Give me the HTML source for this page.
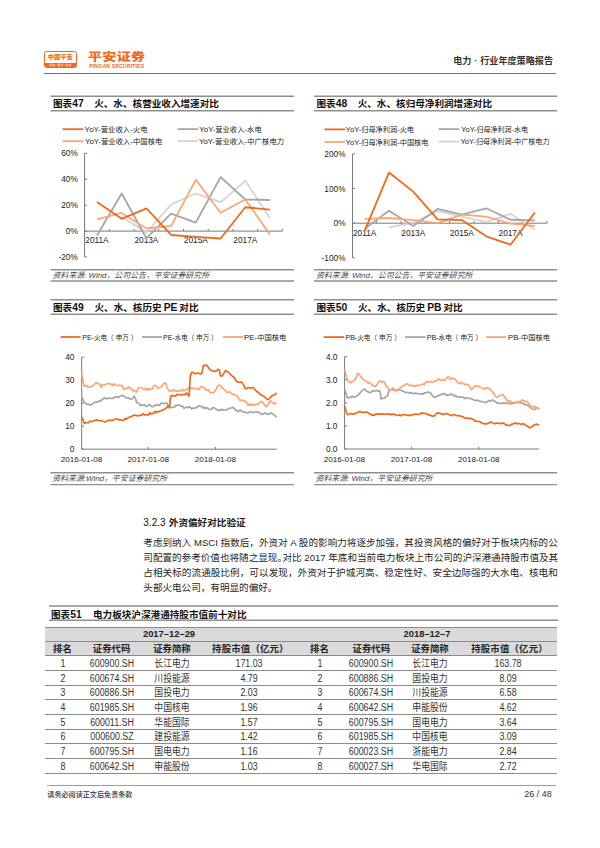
<!DOCTYPE html>
<html><head><meta charset="utf-8"><title>电力·行业年度策略报告</title>
<style>
*{margin:0;padding:0;box-sizing:border-box}
html,body{width:600px;height:848px;background:#fff;overflow:hidden}
body{position:relative;font-family:"Liberation Sans", "Noto Sans CJK SC", sans-serif;color:#333}
.a{position:absolute;white-space:nowrap}
svg{position:absolute;left:0;top:0}
svg text{font-family:"Liberation Sans", "Noto Sans CJK SC", sans-serif}
.logo{position:absolute;left:44.2px;top:50.6px;width:32.6px;height:17.4px;border:1px solid #ee6a1e;border-radius:2.5px;overflow:hidden;background:#fff}
.logo .t{position:absolute;left:0;right:0;top:2.8px;text-align:center;font-size:5.5px;line-height:7px;font-weight:900;color:#ee6a1e;transform:scaleX(1.14)}
.logo .band{position:absolute;left:0;right:0;bottom:0;height:4.4px;background:#ee6a1e;color:#fff;font-size:2.8px;line-height:4.4px;text-align:center;letter-spacing:0.5px}
.brand{left:88.3px;top:47.6px;font-size:11.1px;font-weight:900;color:#ee6a1e;letter-spacing:0.2px;transform:scaleX(1.27);transform-origin:0 0;font-family:"Noto Sans CJK SC",sans-serif}
.brand2{left:89.2px;top:62.6px;font-size:5.2px;color:#ee6a1e;letter-spacing:0.14px;font-weight:bold}
.hdr{right:47px;top:52.8px;font-size:9.1px;font-weight:bold;color:#333}
.hl{position:absolute;left:44px;width:511.5px;top:73px;height:1px;background:#707070}
.title{font-size:9.6px;font-weight:bold;color:#111}
.title .n{font-size:10.3px}
.src{font-size:7.9px;font-style:italic;color:#444}
.h3{left:143.3px;top:514.5px;font-size:9.6px;font-weight:bold;color:#222}
.p{position:absolute;left:143.3px;width:414.5px;font-size:9.58px;line-height:15px;white-space:nowrap;color:#262626}
.p.j{text-align:justify;text-align-last:justify}
.c{position:absolute;width:120px;height:14px;line-height:14px;text-align:center;font-size:10px;color:#333;white-space:nowrap;transform:scaleX(0.885)}
.c.b{font-weight:bold;color:#222;font-size:9.4px;transform:none}
.c.w{letter-spacing:0.2px}
.tb{position:absolute;left:45.3px;width:512.2px;background:#dadada}
.tl{position:absolute;left:45.3px;width:512.2px;height:1.3px;background:#8a8a8a}
.fl{position:absolute;left:47px;width:508.8px;top:784.5px;height:1px;background:#9a9a9a}
.foot{left:47.3px;top:788.5px;font-size:7.1px;color:#333;font-weight:500}
.pg{right:48.3px;top:789.3px;font-size:9px;color:#333}
</style></head><body>
<div class="logo"><div class="t">中国平安</div><div class="band">保险·银行·投资</div></div>
<div class="a brand">平安证券</div>
<div class="a brand2">PINGAN SECURITIES</div>
<div class="a hdr">电力<span style="margin:0 2.9px">·</span>行业年度策略报告</div>
<div class="hl"></div>

<div class="a title" style="left:53px;top:96px">图表<span class="n">47</span></div><div class="a title" style="left:94.2px;top:96px">火、水、核营业收入增速对比</div>
<div class="a title" style="left:316.5px;top:96px">图表<span class="n">48</span></div><div class="a title" style="left:357.7px;top:96px">火、水、核归母净利润增速对比</div>
<div class="a src" style="left:52.6px;top:268.7px">资料来源: Wind，公司公告，平安证券研究所</div>
<div class="a src" style="left:316px;top:268.7px">资料来源: Wind，公司公告，平安证券研究所</div>

<div class="a title" style="left:53px;top:299.5px">图表<span class="n">49</span></div><div class="a title" style="left:94.5px;top:299.5px;word-spacing:-0.7px">火、水、核历史 <span class="n">PE</span> 对比</div>
<div class="a title" style="left:316.5px;top:299.5px">图表<span class="n">50</span></div><div class="a title" style="left:358px;top:299.5px;word-spacing:-0.7px">火、水、核历史 <span class="n">PB</span> 对比</div>
<div class="a src" style="left:52.3px;top:471.6px">资料来源:Wind，平安证券研究所</div>
<div class="a src" style="left:315.5px;top:471.6px">资料来源: Wind，平安证券研究所</div>

<div class="a h3"><span style="font-weight:normal;font-size:10px;color:#111">3.2.3</span><span style="margin-left:3.3px">外资偏好对比验证</span></div>
<div class="p j" style="top:534.6px">考虑到纳入 MSCI 指数后，外资对 A 股的影响力将逐步加强，其投资风格的偏好对于板块内标的公</div>
<div class="p j" style="top:549.8px">司配置的参考价值也将随之显现<span style="letter-spacing:-4.5px">。</span>对比 2017 年底和当前电力板块上市公司的沪深港通持股市值及其</div>
<div class="p j" style="top:565px">占相关标的流通股比例，可以发现，外资对于护城河高、稳定性好、安全边际强的大水电、核电和</div>
<div class="p" style="top:580.2px">头部火电公司，有明显的偏好。</div>

<div class="a title" style="left:51px;top:606.5px">图表<span class="n">51</span></div><div class="a title" style="left:93px;top:606.5px">电力板块沪深港通持股市值前十对比</div>
<div class="tb" style="top:627.5px;height:14.2px"></div>
<div class="tb" style="top:642.2px;height:13.6px"></div>
<div class="tl" style="top:627px"></div>
<div class="tl" style="top:641px"></div>
<div class="tl" style="top:655px"></div>
<div class="tl" style="top:670px"></div>
<div class="tl" style="top:685px"></div>
<div class="tl" style="top:699px"></div>
<div class="tl" style="top:714px"></div>
<div class="tl" style="top:729px"></div>
<div class="tl" style="top:743px"></div>
<div class="tl" style="top:758px"></div>
<div class="tl" style="top:773px"></div>
<div class="c b" style="left:109.0px;top:627.4px">2017–12–29</div>
<div class="c b" style="left:367.0px;top:627.4px">2018–12–7</div>
<div class="c b" style="left:2.5px;top:641.8px">排名</div>
<div class="c b" style="left:51.6px;top:641.8px">证券代码</div>
<div class="c b" style="left:112.0px;top:641.8px">证券简称</div>
<div class="c b w" style="left:190.4px;top:641.8px">持股市值（亿元）</div>
<div class="c b" style="left:259.5px;top:641.8px">排名</div>
<div class="c b" style="left:311.3px;top:641.8px">证券代码</div>
<div class="c b" style="left:370.0px;top:641.8px">证券简称</div>
<div class="c b w" style="left:449.5px;top:641.8px">持股市值（亿元）</div>
<div class="c " style="left:2.5px;top:656.9px">1</div>
<div class="c " style="left:259.5px;top:656.9px">1</div>
<div class="c " style="left:51.6px;top:656.9px">600900.SH</div>
<div class="c " style="left:311.4px;top:656.9px">600900.SH</div>
<div class="c " style="left:112.0px;top:656.9px">长江电力</div>
<div class="c " style="left:370.0px;top:656.9px">长江电力</div>
<div class="c " style="left:188.8px;top:656.9px">171.03</div>
<div class="c " style="left:448.0px;top:656.9px">163.78</div>
<div class="c " style="left:2.5px;top:671.6px">2</div>
<div class="c " style="left:259.5px;top:671.6px">2</div>
<div class="c " style="left:51.6px;top:671.6px">600674.SH</div>
<div class="c " style="left:311.4px;top:671.6px">600886.SH</div>
<div class="c " style="left:112.0px;top:671.6px">川投能源</div>
<div class="c " style="left:370.0px;top:671.6px">国投电力</div>
<div class="c " style="left:188.8px;top:671.6px">4.79</div>
<div class="c " style="left:448.0px;top:671.6px">8.09</div>
<div class="c " style="left:2.5px;top:686.3px">3</div>
<div class="c " style="left:259.5px;top:686.3px">3</div>
<div class="c " style="left:51.6px;top:686.3px">600886.SH</div>
<div class="c " style="left:311.4px;top:686.3px">600674.SH</div>
<div class="c " style="left:112.0px;top:686.3px">国投电力</div>
<div class="c " style="left:370.0px;top:686.3px">川投能源</div>
<div class="c " style="left:188.8px;top:686.3px">2.03</div>
<div class="c " style="left:448.0px;top:686.3px">6.58</div>
<div class="c " style="left:2.5px;top:701.0px">4</div>
<div class="c " style="left:259.5px;top:701.0px">4</div>
<div class="c " style="left:51.6px;top:701.0px">601985.SH</div>
<div class="c " style="left:311.4px;top:701.0px">600642.SH</div>
<div class="c " style="left:112.0px;top:701.0px">中国核电</div>
<div class="c " style="left:370.0px;top:701.0px">申能股份</div>
<div class="c " style="left:188.8px;top:701.0px">1.96</div>
<div class="c " style="left:448.0px;top:701.0px">4.62</div>
<div class="c " style="left:2.5px;top:715.7px">5</div>
<div class="c " style="left:259.5px;top:715.7px">5</div>
<div class="c " style="left:51.6px;top:715.7px">600011.SH</div>
<div class="c " style="left:311.4px;top:715.7px">600795.SH</div>
<div class="c " style="left:112.0px;top:715.7px">华能国际</div>
<div class="c " style="left:370.0px;top:715.7px">国电电力</div>
<div class="c " style="left:188.8px;top:715.7px">1.57</div>
<div class="c " style="left:448.0px;top:715.7px">3.64</div>
<div class="c " style="left:2.5px;top:730.4px">6</div>
<div class="c " style="left:259.5px;top:730.4px">6</div>
<div class="c " style="left:51.6px;top:730.4px">000600.SZ</div>
<div class="c " style="left:311.4px;top:730.4px">601985.SH</div>
<div class="c " style="left:112.0px;top:730.4px">建投能源</div>
<div class="c " style="left:370.0px;top:730.4px">中国核电</div>
<div class="c " style="left:188.8px;top:730.4px">1.42</div>
<div class="c " style="left:448.0px;top:730.4px">3.09</div>
<div class="c " style="left:2.5px;top:745.1px">7</div>
<div class="c " style="left:259.5px;top:745.1px">7</div>
<div class="c " style="left:51.6px;top:745.1px">600795.SH</div>
<div class="c " style="left:311.4px;top:745.1px">600023.SH</div>
<div class="c " style="left:112.0px;top:745.1px">国电电力</div>
<div class="c " style="left:370.0px;top:745.1px">浙能电力</div>
<div class="c " style="left:188.8px;top:745.1px">1.16</div>
<div class="c " style="left:448.0px;top:745.1px">2.84</div>
<div class="c " style="left:2.5px;top:759.8px">8</div>
<div class="c " style="left:259.5px;top:759.8px">8</div>
<div class="c " style="left:51.6px;top:759.8px">600642.SH</div>
<div class="c " style="left:311.4px;top:759.8px">600027.SH</div>
<div class="c " style="left:112.0px;top:759.8px">申能股份</div>
<div class="c " style="left:370.0px;top:759.8px">华电国际</div>
<div class="c " style="left:188.8px;top:759.8px">1.03</div>
<div class="c " style="left:448.0px;top:759.8px">2.72</div>
<div class="fl"></div>
<div class="a foot">请务必阅读正文后免责条款</div>
<div class="a pg">26 / 48</div>
<svg width="600" height="848" viewBox="0 0 600 848">
<line x1="50.5" y1="96.2" x2="294" y2="96.2" stroke="#8f8f8f" stroke-width="1.4"/>
<line x1="50.5" y1="110.8" x2="294" y2="110.8" stroke="#8f8f8f" stroke-width="1.4"/>
<line x1="50.5" y1="269.7" x2="294" y2="269.7" stroke="#8f8f8f" stroke-width="1.4"/>
<line x1="50.5" y1="281" x2="294" y2="281" stroke="#8f8f8f" stroke-width="1.4"/>
<line x1="50.5" y1="299.7" x2="294" y2="299.7" stroke="#8f8f8f" stroke-width="1.4"/>
<line x1="50.5" y1="314.3" x2="294" y2="314.3" stroke="#8f8f8f" stroke-width="1.4"/>
<line x1="50.5" y1="472.7" x2="294" y2="472.7" stroke="#8f8f8f" stroke-width="1.4"/>
<line x1="50.5" y1="484.6" x2="294" y2="484.6" stroke="#8f8f8f" stroke-width="1.4"/>
<line x1="314" y1="96.2" x2="557.2" y2="96.2" stroke="#8f8f8f" stroke-width="1.4"/>
<line x1="314" y1="110.8" x2="557.2" y2="110.8" stroke="#8f8f8f" stroke-width="1.4"/>
<line x1="314" y1="269.7" x2="557.2" y2="269.7" stroke="#8f8f8f" stroke-width="1.4"/>
<line x1="314" y1="281" x2="557.2" y2="281" stroke="#8f8f8f" stroke-width="1.4"/>
<line x1="314" y1="299.7" x2="557.2" y2="299.7" stroke="#8f8f8f" stroke-width="1.4"/>
<line x1="314" y1="314.3" x2="557.2" y2="314.3" stroke="#8f8f8f" stroke-width="1.4"/>
<line x1="314" y1="472.7" x2="557.2" y2="472.7" stroke="#8f8f8f" stroke-width="1.4"/>
<line x1="314" y1="484.6" x2="557.2" y2="484.6" stroke="#8f8f8f" stroke-width="1.4"/>
<line x1="84.6" y1="153.4" x2="84.6" y2="257.0" stroke="#7a7a7a" stroke-width="1"/>
<line x1="84.6" y1="153.40" x2="87.0" y2="153.40" stroke="#7a7a7a" stroke-width="1"/>
<text x="77.8" y="156.4" font-size="8.3" text-anchor="end" fill="#222" font-weight="normal" font-style="normal" >60%</text>
<line x1="84.6" y1="179.30" x2="87.0" y2="179.30" stroke="#7a7a7a" stroke-width="1"/>
<text x="77.8" y="182.3" font-size="8.3" text-anchor="end" fill="#222" font-weight="normal" font-style="normal" >40%</text>
<line x1="84.6" y1="205.20" x2="87.0" y2="205.20" stroke="#7a7a7a" stroke-width="1"/>
<text x="77.8" y="208.2" font-size="8.3" text-anchor="end" fill="#222" font-weight="normal" font-style="normal" >20%</text>
<line x1="84.6" y1="231.10" x2="87.0" y2="231.10" stroke="#7a7a7a" stroke-width="1"/>
<text x="77.8" y="234.1" font-size="8.3" text-anchor="end" fill="#222" font-weight="normal" font-style="normal" >0%</text>
<line x1="84.6" y1="257.00" x2="87.0" y2="257.00" stroke="#7a7a7a" stroke-width="1"/>
<text x="77.8" y="260.0" font-size="8.3" text-anchor="end" fill="#222" font-weight="normal" font-style="normal" >-20%</text>
<line x1="84.6" y1="231.1" x2="282.4" y2="231.1" stroke="#7a7a7a" stroke-width="1"/>
<line x1="109.32" y1="231.1" x2="109.32" y2="228.9" stroke="#7a7a7a" stroke-width="1"/>
<line x1="134.05" y1="231.1" x2="134.05" y2="228.9" stroke="#7a7a7a" stroke-width="1"/>
<line x1="158.77" y1="231.1" x2="158.77" y2="228.9" stroke="#7a7a7a" stroke-width="1"/>
<line x1="183.50" y1="231.1" x2="183.50" y2="228.9" stroke="#7a7a7a" stroke-width="1"/>
<line x1="208.22" y1="231.1" x2="208.22" y2="228.9" stroke="#7a7a7a" stroke-width="1"/>
<line x1="232.95" y1="231.1" x2="232.95" y2="228.9" stroke="#7a7a7a" stroke-width="1"/>
<line x1="257.67" y1="231.1" x2="257.67" y2="228.9" stroke="#7a7a7a" stroke-width="1"/>
<line x1="282.40" y1="231.1" x2="282.40" y2="228.9" stroke="#7a7a7a" stroke-width="1"/>
<text x="96.96249999999999" y="243.3" font-size="8.3" text-anchor="middle" fill="#222" font-weight="normal" font-style="normal" >2011A</text>
<text x="146.4125" y="243.3" font-size="8.3" text-anchor="middle" fill="#222" font-weight="normal" font-style="normal" >2013A</text>
<text x="195.86249999999998" y="243.3" font-size="8.3" text-anchor="middle" fill="#222" font-weight="normal" font-style="normal" >2015A</text>
<text x="245.31249999999997" y="243.3" font-size="8.3" text-anchor="middle" fill="#222" font-weight="normal" font-style="normal" >2017A</text>
<polyline points="121.69,216.85 146.41,232.39 171.14,204.55 195.86,193.54 220.59,202.22 245.31,180.85 270.04,218.15" fill="none" stroke="#d4d4d4" stroke-width="1.8" stroke-linejoin="round" stroke-linecap="butt"/>
<polyline points="96.96,235.50 121.69,193.54 146.41,238.22 171.14,213.62 195.86,222.55 220.59,177.10 245.31,199.50 270.04,200.02" fill="none" stroke="#a6a6a6" stroke-width="1.8" stroke-linejoin="round" stroke-linecap="butt"/>
<polyline points="96.96,219.44 121.69,212.97 146.41,228.51 171.14,225.92 195.86,179.82 220.59,212.71 245.31,199.50 270.04,234.60" fill="none" stroke="#f7a877" stroke-width="1.8" stroke-linejoin="round" stroke-linecap="butt"/>
<polyline points="96.96,201.96 121.69,218.80 146.41,208.44 171.14,234.98 195.86,236.93 220.59,238.48 245.31,207.27 270.04,209.60" fill="none" stroke="#ee6a1e" stroke-width="1.8" stroke-linejoin="round" stroke-linecap="butt"/>
<line x1="62.5" y1="129.2" x2="83.3" y2="129.2" stroke="#ee6a1e" stroke-width="1.8"/>
<text x="84.6" y="132.0" font-size="7.6" text-anchor="start" fill="#222" font-weight="normal" font-style="normal" textLength="63.0" lengthAdjust="spacingAndGlyphs">YoY-<tspan font-size="7.1">营业收入</tspan>-<tspan font-size="7.1">火电</tspan></text>
<line x1="177.6" y1="129.1" x2="198.2" y2="129.1" stroke="#a6a6a6" stroke-width="1.8"/>
<text x="199.29999999999998" y="131.9" font-size="7.6" text-anchor="start" fill="#222" font-weight="normal" font-style="normal" textLength="62.4" lengthAdjust="spacingAndGlyphs">YoY-<tspan font-size="7.1">营业收入</tspan>-<tspan font-size="7.1">水电</tspan></text>
<line x1="62.5" y1="141.2" x2="83.3" y2="141.2" stroke="#f7a877" stroke-width="1.8"/>
<text x="84.89999999999999" y="144.0" font-size="7.6" text-anchor="start" fill="#222" font-weight="normal" font-style="normal" textLength="77.5" lengthAdjust="spacingAndGlyphs">YoY-<tspan font-size="7.1">营业收入</tspan>-<tspan font-size="7.1">中国核电</tspan></text>
<line x1="177.6" y1="141.1" x2="198.2" y2="141.1" stroke="#d4d4d4" stroke-width="1.8"/>
<text x="198.9" y="143.9" font-size="7.6" text-anchor="start" fill="#222" font-weight="normal" font-style="normal" textLength="85.3" lengthAdjust="spacingAndGlyphs">YoY-<tspan font-size="7.1">营业收入</tspan>-<tspan font-size="7.1">中广核电力</tspan></text>
<line x1="352.5" y1="153.85999999999999" x2="352.5" y2="257.87" stroke="#7a7a7a" stroke-width="1"/>
<line x1="352.5" y1="153.86" x2="354.9" y2="153.86" stroke="#7a7a7a" stroke-width="1"/>
<text x="345.6" y="156.85999999999999" font-size="8.3" text-anchor="end" fill="#222" font-weight="normal" font-style="normal" >200%</text>
<line x1="352.5" y1="188.53" x2="354.9" y2="188.53" stroke="#7a7a7a" stroke-width="1"/>
<text x="345.6" y="191.52999999999997" font-size="8.3" text-anchor="end" fill="#222" font-weight="normal" font-style="normal" >100%</text>
<line x1="352.5" y1="223.20" x2="354.9" y2="223.20" stroke="#7a7a7a" stroke-width="1"/>
<text x="345.6" y="226.2" font-size="8.3" text-anchor="end" fill="#222" font-weight="normal" font-style="normal" >0%</text>
<line x1="352.5" y1="257.87" x2="354.9" y2="257.87" stroke="#7a7a7a" stroke-width="1"/>
<text x="345.6" y="260.87" font-size="8.3" text-anchor="end" fill="#222" font-weight="normal" font-style="normal" >-100%</text>
<line x1="352.5" y1="223.2" x2="547.0" y2="223.2" stroke="#7a7a7a" stroke-width="1"/>
<line x1="376.81" y1="223.2" x2="376.81" y2="221.0" stroke="#7a7a7a" stroke-width="1"/>
<line x1="401.12" y1="223.2" x2="401.12" y2="221.0" stroke="#7a7a7a" stroke-width="1"/>
<line x1="425.44" y1="223.2" x2="425.44" y2="221.0" stroke="#7a7a7a" stroke-width="1"/>
<line x1="449.75" y1="223.2" x2="449.75" y2="221.0" stroke="#7a7a7a" stroke-width="1"/>
<line x1="474.06" y1="223.2" x2="474.06" y2="221.0" stroke="#7a7a7a" stroke-width="1"/>
<line x1="498.38" y1="223.2" x2="498.38" y2="221.0" stroke="#7a7a7a" stroke-width="1"/>
<line x1="522.69" y1="223.2" x2="522.69" y2="221.0" stroke="#7a7a7a" stroke-width="1"/>
<line x1="547.00" y1="223.2" x2="547.00" y2="221.0" stroke="#7a7a7a" stroke-width="1"/>
<text x="364.65625" y="235.8" font-size="8.3" text-anchor="middle" fill="#222" font-weight="normal" font-style="normal" >2011A</text>
<text x="413.28125" y="235.8" font-size="8.3" text-anchor="middle" fill="#222" font-weight="normal" font-style="normal" >2013A</text>
<text x="461.90625" y="235.8" font-size="8.3" text-anchor="middle" fill="#222" font-weight="normal" font-style="normal" >2015A</text>
<text x="510.53125" y="235.8" font-size="8.3" text-anchor="middle" fill="#222" font-weight="normal" font-style="normal" >2017A</text>
<polyline points="388.97,227.36 413.28,222.85 437.59,211.07 461.91,216.61 486.22,222.16 510.53,213.84 534.84,229.79" fill="none" stroke="#d4d4d4" stroke-width="1.8" stroke-linejoin="round" stroke-linecap="butt"/>
<polyline points="364.66,228.75 388.97,210.72 413.28,225.97 437.59,208.99 461.91,214.53 486.22,208.29 510.53,219.73 534.84,220.43" fill="none" stroke="#a6a6a6" stroke-width="1.8" stroke-linejoin="round" stroke-linecap="butt"/>
<polyline points="364.66,218.87 388.97,218.00 413.28,220.08 437.59,223.20 461.91,214.53 486.22,216.61 510.53,223.55 534.84,225.97" fill="none" stroke="#f7a877" stroke-width="1.8" stroke-linejoin="round" stroke-linecap="butt"/>
<polyline points="364.66,230.83 388.97,172.58 413.28,191.65 437.59,219.39 461.91,220.08 486.22,236.37 510.53,244.70 534.84,212.45" fill="none" stroke="#ee6a1e" stroke-width="1.8" stroke-linejoin="round" stroke-linecap="butt"/>
<line x1="324.4" y1="129.4" x2="345.0" y2="129.4" stroke="#ee6a1e" stroke-width="1.8"/>
<text x="345.6" y="132.20000000000002" font-size="7.6" text-anchor="start" fill="#222" font-weight="normal" font-style="normal" textLength="68.4" lengthAdjust="spacingAndGlyphs">YoY-<tspan font-size="7.1">归母净利润</tspan>-<tspan font-size="7.1">火电</tspan></text>
<line x1="438.7" y1="129.1" x2="459.3" y2="129.1" stroke="#a6a6a6" stroke-width="1.8"/>
<text x="461.3" y="131.9" font-size="7.6" text-anchor="start" fill="#222" font-weight="normal" font-style="normal" textLength="66.7" lengthAdjust="spacingAndGlyphs">YoY-<tspan font-size="7.1">归母净利润</tspan>-<tspan font-size="7.1">水电</tspan></text>
<line x1="324.4" y1="142.0" x2="345.0" y2="142.0" stroke="#f7a877" stroke-width="1.8"/>
<text x="345.6" y="144.8" font-size="7.6" text-anchor="start" fill="#222" font-weight="normal" font-style="normal" textLength="82.8" lengthAdjust="spacingAndGlyphs">YoY-<tspan font-size="7.1">归母净利润</tspan>-<tspan font-size="7.1">中国核电</tspan></text>
<line x1="438.7" y1="141.5" x2="459.3" y2="141.5" stroke="#d4d4d4" stroke-width="1.8"/>
<text x="460.40000000000003" y="144.3" font-size="7.6" text-anchor="start" fill="#222" font-weight="normal" font-style="normal" textLength="89.2" lengthAdjust="spacingAndGlyphs">YoY-<tspan font-size="7.1">归母净利润</tspan>-<tspan font-size="7.1">中广核电力</tspan></text>
<line x1="81.7" y1="357.08" x2="81.7" y2="449.2" stroke="#7a7a7a" stroke-width="1"/>
<line x1="81.7" y1="357.08" x2="84.10000000000001" y2="357.08" stroke="#7a7a7a" stroke-width="1"/>
<text x="74.4" y="360.08" font-size="8.3" text-anchor="end" fill="#222" font-weight="normal" font-style="normal" >40</text>
<line x1="81.7" y1="380.11" x2="84.10000000000001" y2="380.11" stroke="#7a7a7a" stroke-width="1"/>
<text x="74.4" y="383.11" font-size="8.3" text-anchor="end" fill="#222" font-weight="normal" font-style="normal" >30</text>
<line x1="81.7" y1="403.14" x2="84.10000000000001" y2="403.14" stroke="#7a7a7a" stroke-width="1"/>
<text x="74.4" y="406.14" font-size="8.3" text-anchor="end" fill="#222" font-weight="normal" font-style="normal" >20</text>
<line x1="81.7" y1="426.17" x2="84.10000000000001" y2="426.17" stroke="#7a7a7a" stroke-width="1"/>
<text x="74.4" y="429.16999999999996" font-size="8.3" text-anchor="end" fill="#222" font-weight="normal" font-style="normal" >10</text>
<line x1="81.7" y1="449.20" x2="84.10000000000001" y2="449.20" stroke="#7a7a7a" stroke-width="1"/>
<text x="74.4" y="452.2" font-size="8.3" text-anchor="end" fill="#222" font-weight="normal" font-style="normal" >0</text>
<line x1="81.7" y1="449.2" x2="276.7" y2="449.2" stroke="#7a7a7a" stroke-width="1"/>
<line x1="148.3" y1="449.2" x2="148.3" y2="447.0" stroke="#7a7a7a" stroke-width="1"/>
<line x1="215.4" y1="449.2" x2="215.4" y2="447.0" stroke="#7a7a7a" stroke-width="1"/>
<text x="81.5" y="461.8" font-size="8.1" text-anchor="middle" fill="#222" font-weight="normal" font-style="normal" >2016-01-08</text>
<text x="148.3" y="461.8" font-size="8.1" text-anchor="middle" fill="#222" font-weight="normal" font-style="normal" >2017-01-08</text>
<text x="215.4" y="461.8" font-size="8.1" text-anchor="middle" fill="#222" font-weight="normal" font-style="normal" >2018-01-08</text>
<polyline points="81.70,396.34 83.01,399.78 84.32,402.07 85.63,403.23 86.93,404.23 88.24,403.96 89.55,404.68 90.86,405.19 92.17,403.95 93.48,403.12 94.79,402.15 96.10,402.58 97.40,401.72 98.71,401.02 100.02,401.52 101.33,400.07 102.64,399.62 103.95,397.67 105.26,398.25 106.57,398.86 107.87,398.11 109.18,398.48 110.49,397.99 111.80,398.48 113.11,398.17 114.42,397.20 115.73,396.74 117.04,396.79 118.34,397.61 119.65,396.58 120.96,396.04 122.27,395.29 123.58,396.29 124.89,396.54 126.20,397.86 127.51,398.13 128.81,397.97 130.12,399.29 131.43,399.00 132.74,398.71 134.05,396.34 135.36,398.07 136.67,402.74 137.98,402.93 139.28,403.90 140.59,405.64 141.90,404.79 143.21,405.35 144.52,404.83 145.83,406.21 147.14,406.40 148.44,405.21 149.75,404.41 151.06,405.95 152.37,406.81 153.68,406.22 154.99,405.19 156.30,404.96 157.61,404.65 158.91,405.45 160.22,404.51 161.53,403.01 162.84,403.10 164.15,403.70 165.46,403.25 166.77,402.76 168.08,405.62 169.38,406.61 170.69,407.74 172.00,407.29 173.31,407.12 174.62,406.80 175.93,405.42 177.24,405.46 178.55,404.75 179.85,405.51 181.16,406.24 182.47,405.98 183.78,408.42 185.09,407.63 186.40,406.99 187.71,407.74 189.02,406.81 190.32,407.09 191.63,408.78 192.94,407.98 194.25,408.13 195.56,407.84 196.87,407.37 198.18,405.96 199.49,406.04 200.79,406.37 202.10,406.43 203.41,408.36 204.72,407.18 206.03,408.36 207.34,407.91 208.65,408.97 209.96,409.56 211.26,409.51 212.57,407.71 213.88,407.67 215.19,408.77 216.50,409.24 217.81,410.29 219.12,410.10 220.42,410.37 221.73,409.27 223.04,410.22 224.35,409.89 225.66,410.02 226.97,409.94 228.28,408.66 229.59,408.29 230.89,408.00 232.20,407.58 233.51,407.51 234.82,409.65 236.13,409.53 237.44,411.46 238.75,411.39 240.06,409.90 241.36,410.85 242.67,411.71 243.98,411.93 245.29,412.28 246.60,412.40 247.91,413.14 249.22,412.14 250.53,411.74 251.83,412.43 253.14,412.45 254.45,412.23 255.76,411.84 257.07,412.16 258.38,412.15 259.69,412.95 261.00,414.16 262.30,414.48 263.61,413.52 264.92,413.03 266.23,413.46 267.54,414.35 268.85,414.24 270.16,413.14 271.47,412.79 272.77,414.27 274.08,414.71 275.39,416.16 276.70,416.84" fill="none" stroke="#a6a6a6" stroke-width="1.7" stroke-linejoin="round" stroke-linecap="butt"/>
<polyline points="81.70,373.54 83.01,381.49 84.32,386.11 85.63,386.16 86.93,385.41 88.24,387.22 89.55,387.22 90.86,386.89 92.17,386.38 93.48,385.40 94.79,384.02 96.10,382.65 97.40,383.81 98.71,383.43 100.02,384.50 101.33,387.41 102.64,384.59 103.95,384.53 105.26,384.85 106.57,383.98 107.87,383.48 109.18,383.36 110.49,384.31 111.80,384.00 113.11,385.70 114.42,383.73 115.73,385.45 117.04,385.48 118.34,385.36 119.65,385.18 120.96,385.69 122.27,385.38 123.58,389.57 124.89,388.69 126.20,388.34 127.51,388.53 128.81,386.73 130.12,388.37 131.43,388.61 132.74,390.92 134.05,390.06 135.36,391.52 136.67,392.02 137.98,388.17 139.28,387.50 140.59,387.77 141.90,387.68 143.21,389.23 144.52,389.69 145.83,388.36 147.14,390.16 148.44,388.67 149.75,389.82 151.06,388.50 152.37,388.94 153.68,386.13 154.99,385.15 156.30,386.11 157.61,388.06 158.91,388.01 160.22,387.05 161.53,386.86 162.84,385.10 164.15,383.01 165.46,382.54 166.77,386.62 168.08,389.52 169.38,390.89 170.69,390.84 172.00,391.48 173.31,389.54 174.62,390.23 175.93,391.33 177.24,390.64 178.55,390.86 179.85,391.19 181.16,390.47 182.47,389.03 183.78,391.13 185.09,390.07 186.40,389.45 187.71,388.97 189.02,387.59 190.32,388.98 191.63,387.97 192.94,388.35 194.25,388.28 195.56,388.64 196.87,389.02 198.18,389.52 199.49,388.88 200.79,386.77 202.10,386.66 203.41,387.05 204.72,388.13 206.03,390.15 207.34,390.52 208.65,389.49 209.96,392.69 211.26,392.65 212.57,392.71 213.88,392.45 215.19,390.84 216.50,388.71 217.81,386.04 219.12,385.05 220.42,385.47 221.73,387.38 223.04,388.29 224.35,389.80 225.66,390.78 226.97,392.34 228.28,392.29 229.59,391.67 230.89,393.20 232.20,393.90 233.51,394.15 234.82,395.15 236.13,395.04 237.44,396.24 238.75,398.82 240.06,400.58 241.36,400.15 242.67,400.36 243.98,400.35 245.29,401.54 246.60,402.45 247.91,405.13 249.22,403.89 250.53,405.45 251.83,403.86 253.14,405.07 254.45,405.18 255.76,404.26 257.07,404.20 258.38,404.32 259.69,402.61 261.00,401.69 262.30,401.66 263.61,403.58 264.92,405.73 266.23,406.64 267.54,405.23 268.85,403.23 270.16,400.82 271.47,401.73 272.77,403.16 274.08,404.07 275.39,402.87 276.70,403.55" fill="none" stroke="#f7a877" stroke-width="1.7" stroke-linejoin="round" stroke-linecap="butt"/>
<polyline points="81.70,416.89 83.01,419.72 84.32,423.46 85.63,422.53 86.93,422.76 88.24,422.82 89.55,421.28 90.86,421.41 92.17,421.49 93.48,420.88 94.79,420.12 96.10,420.35 97.40,419.93 98.71,420.64 100.02,420.53 101.33,420.61 102.64,421.25 103.95,421.72 105.26,422.05 106.57,421.26 107.87,420.71 109.18,420.44 110.49,419.99 111.80,420.65 113.11,420.15 114.42,419.59 115.73,418.81 117.04,419.33 118.34,419.25 119.65,420.24 120.96,419.71 122.27,420.48 123.58,420.33 124.89,418.41 126.20,419.46 127.51,417.94 128.81,417.27 130.12,417.23 131.43,416.49 132.74,415.88 134.05,415.03 135.36,415.29 136.67,415.57 137.98,415.63 139.28,415.81 140.59,415.14 141.90,415.13 143.21,413.73 144.52,414.79 145.83,414.78 147.14,414.55 148.44,415.12 149.75,412.68 151.06,414.12 152.37,413.44 153.68,413.13 154.99,411.36 156.30,412.75 157.61,411.39 158.91,411.54 160.22,410.99 161.53,410.82 162.84,409.62 164.15,409.68 165.46,408.66 166.77,407.44 168.08,405.54 169.38,407.53 170.69,396.08 172.00,395.41 173.31,395.92 174.62,395.59 175.93,395.85 177.24,394.45 178.55,394.53 179.85,394.78 181.16,394.82 182.47,394.72 183.78,394.54 185.09,394.81 186.40,392.85 187.71,394.31 189.02,396.26 190.32,376.29 191.63,372.34 192.94,372.40 194.25,373.16 195.56,373.63 196.87,373.43 198.18,372.94 199.49,373.69 200.79,374.16 202.10,372.34 203.41,365.37 204.72,365.64 206.03,364.93 207.34,365.93 208.65,367.84 209.96,369.75 211.26,370.24 212.57,370.91 213.88,371.14 215.19,371.34 216.50,370.82 217.81,369.29 219.12,369.80 220.42,375.65 221.73,376.13 223.04,374.60 224.35,372.58 225.66,370.58 226.97,371.30 228.28,372.31 229.59,373.12 230.89,375.03 232.20,376.00 233.51,376.79 234.82,378.78 236.13,380.95 237.44,381.85 238.75,382.14 240.06,382.25 241.36,381.94 242.67,383.45 243.98,385.60 245.29,388.59 246.60,388.63 247.91,387.66 249.22,387.65 250.53,388.18 251.83,387.56 253.14,387.48 254.45,389.19 255.76,390.53 257.07,391.88 258.38,392.34 259.69,394.18 261.00,394.38 262.30,395.67 263.61,395.97 264.92,397.15 266.23,398.43 267.54,399.58 268.85,398.88 270.16,397.84 271.47,396.27 272.77,395.30 274.08,395.16 275.39,394.07 276.70,392.76" fill="none" stroke="#ee6a1e" stroke-width="1.7" stroke-linejoin="round" stroke-linecap="butt"/>
<line x1="60.6" y1="337" x2="80.6" y2="337" stroke="#ee6a1e" stroke-width="1.8"/>
<text x="82.19999999999999" y="339.8" font-size="7.6" text-anchor="start" fill="#222" font-weight="normal" font-style="normal" textLength="55.2" lengthAdjust="spacingAndGlyphs">PE-<tspan font-size="7.1">火电（</tspan> <tspan font-size="7.1">申万</tspan> <tspan font-size="7.1">）</tspan></text>
<line x1="142" y1="337" x2="162" y2="337" stroke="#a6a6a6" stroke-width="1.8"/>
<text x="163.1" y="339.8" font-size="7.6" text-anchor="start" fill="#222" font-weight="normal" font-style="normal" textLength="54.5" lengthAdjust="spacingAndGlyphs">PE-<tspan font-size="7.1">水电（</tspan> <tspan font-size="7.1">申万</tspan> <tspan font-size="7.1">）</tspan></text>
<line x1="223" y1="337" x2="243.3" y2="337" stroke="#f7a877" stroke-width="1.8"/>
<text x="244.1" y="339.8" font-size="7.6" text-anchor="start" fill="#222" font-weight="normal" font-style="normal" textLength="42.3" lengthAdjust="spacingAndGlyphs">PE-<tspan font-size="7.1">中国核电</tspan></text>
<line x1="344.6" y1="356.72" x2="344.6" y2="449.0" stroke="#7a7a7a" stroke-width="1"/>
<line x1="344.6" y1="356.72" x2="347.0" y2="356.72" stroke="#7a7a7a" stroke-width="1"/>
<text x="337.5" y="359.72" font-size="8.3" text-anchor="end" fill="#222" font-weight="normal" font-style="normal" >4.0</text>
<line x1="344.6" y1="379.79" x2="347.0" y2="379.79" stroke="#7a7a7a" stroke-width="1"/>
<text x="337.5" y="382.78999999999996" font-size="8.3" text-anchor="end" fill="#222" font-weight="normal" font-style="normal" >3.0</text>
<line x1="344.6" y1="402.86" x2="347.0" y2="402.86" stroke="#7a7a7a" stroke-width="1"/>
<text x="337.5" y="405.86" font-size="8.3" text-anchor="end" fill="#222" font-weight="normal" font-style="normal" >2.0</text>
<line x1="344.6" y1="425.93" x2="347.0" y2="425.93" stroke="#7a7a7a" stroke-width="1"/>
<text x="337.5" y="428.93" font-size="8.3" text-anchor="end" fill="#222" font-weight="normal" font-style="normal" >1.0</text>
<line x1="344.6" y1="449.00" x2="347.0" y2="449.00" stroke="#7a7a7a" stroke-width="1"/>
<text x="337.5" y="452.0" font-size="8.3" text-anchor="end" fill="#222" font-weight="normal" font-style="normal" >0.0</text>
<line x1="344.6" y1="449.0" x2="539.2" y2="449.0" stroke="#7a7a7a" stroke-width="1"/>
<line x1="411.5" y1="449.0" x2="411.5" y2="446.8" stroke="#7a7a7a" stroke-width="1"/>
<line x1="478.75" y1="449.0" x2="478.75" y2="446.8" stroke="#7a7a7a" stroke-width="1"/>
<text x="344.4" y="461.8" font-size="8.1" text-anchor="middle" fill="#222" font-weight="normal" font-style="normal" >2016-01-08</text>
<text x="411.5" y="461.8" font-size="8.1" text-anchor="middle" fill="#222" font-weight="normal" font-style="normal" >2017-01-08</text>
<text x="478.75" y="461.8" font-size="8.1" text-anchor="middle" fill="#222" font-weight="normal" font-style="normal" >2018-01-08</text>
<polyline points="344.60,388.99 345.91,392.89 347.21,397.43 348.52,397.94 349.82,397.27 351.13,397.08 352.44,396.22 353.74,397.04 355.05,396.86 356.35,396.21 357.66,395.42 358.97,394.14 360.27,392.69 361.58,391.26 362.88,389.89 364.19,389.05 365.50,389.59 366.80,391.50 368.11,391.78 369.41,392.60 370.72,392.63 372.03,391.08 373.33,390.79 374.64,391.37 375.94,390.61 377.25,390.61 378.56,391.11 379.86,390.82 381.17,399.10 382.48,398.44 383.78,398.17 385.09,397.61 386.39,395.98 387.70,395.95 389.01,389.96 390.31,390.07 391.62,389.42 392.92,390.12 394.23,389.37 395.54,390.37 396.84,390.53 398.15,389.95 399.45,389.94 400.76,390.38 402.07,390.69 403.37,391.08 404.68,392.03 405.98,392.73 407.29,392.24 408.60,392.62 409.90,393.33 411.21,392.76 412.51,393.63 413.82,393.54 415.13,393.19 416.43,393.38 417.74,393.81 419.04,393.54 420.35,393.85 421.66,393.94 422.96,394.18 424.27,392.92 425.57,393.17 426.88,392.28 428.19,392.14 429.49,392.36 430.80,393.21 432.10,395.26 433.41,396.68 434.72,397.39 436.02,396.90 437.33,396.05 438.63,395.69 439.94,395.09 441.25,394.29 442.55,394.32 443.86,393.32 445.17,394.62 446.47,394.56 447.78,395.72 449.08,394.62 450.39,394.67 451.70,393.89 453.00,394.71 454.31,396.27 455.61,395.41 456.92,396.51 458.23,397.23 459.53,397.14 460.84,396.73 462.14,397.26 463.45,397.33 464.76,398.70 466.06,397.57 467.37,398.06 468.67,398.38 469.98,398.43 471.29,398.84 472.59,399.19 473.90,400.19 475.20,400.45 476.51,400.41 477.82,400.21 479.12,400.90 480.43,401.34 481.73,401.61 483.04,401.78 484.35,402.24 485.65,402.44 486.96,402.18 488.26,400.84 489.57,400.71 490.88,401.28 492.18,399.78 493.49,400.53 494.79,401.16 496.10,402.10 497.41,403.49 498.71,402.94 500.02,403.34 501.32,403.52 502.63,403.10 503.94,402.88 505.24,403.22 506.55,403.59 507.86,402.64 509.16,402.97 510.47,404.02 511.77,403.42 513.08,403.31 514.39,403.23 515.69,402.71 517.00,402.57 518.30,401.51 519.61,402.33 520.92,402.94 522.22,402.93 523.53,404.07 524.83,404.02 526.14,404.95 527.45,405.02 528.75,406.47 530.06,406.84 531.36,408.46 532.67,408.99 533.98,409.28 535.28,409.30 536.59,408.25 537.89,407.72 539.20,409.27" fill="none" stroke="#a6a6a6" stroke-width="1.7" stroke-linejoin="round" stroke-linecap="butt"/>
<polyline points="344.60,369.21 345.91,374.95 347.21,379.00 348.52,382.01 349.82,381.50 351.13,382.98 352.44,381.24 353.74,381.00 355.05,379.87 356.35,377.14 357.66,373.37 358.97,373.96 360.27,376.07 361.58,377.23 362.88,379.40 364.19,380.36 365.50,380.53 366.80,381.61 368.11,383.08 369.41,382.32 370.72,383.67 372.03,385.03 373.33,385.43 374.64,386.42 375.94,385.87 377.25,384.75 378.56,381.68 379.86,380.97 381.17,381.67 382.48,382.09 383.78,381.55 385.09,383.43 386.39,386.59 387.70,386.87 389.01,389.50 390.31,389.96 391.62,389.45 392.92,387.89 394.23,389.62 395.54,391.60 396.84,389.79 398.15,389.42 399.45,388.85 400.76,387.48 402.07,386.49 403.37,385.52 404.68,385.22 405.98,384.19 407.29,383.72 408.60,384.77 409.90,385.93 411.21,385.37 412.51,385.17 413.82,386.23 415.13,386.35 416.43,385.15 417.74,385.31 419.04,385.55 420.35,385.07 421.66,384.53 422.96,383.94 424.27,384.91 425.57,382.27 426.88,381.70 428.19,382.12 429.49,381.50 430.80,381.81 432.10,382.36 433.41,382.00 434.72,380.95 436.02,381.12 437.33,380.04 438.63,378.71 439.94,380.25 441.25,380.54 442.55,379.45 443.86,380.65 445.17,380.06 446.47,378.27 447.78,377.22 449.08,377.20 450.39,379.67 451.70,377.90 453.00,378.48 454.31,378.83 455.61,379.42 456.92,381.73 458.23,383.06 459.53,383.85 460.84,381.97 462.14,383.23 463.45,383.69 464.76,384.25 466.06,384.28 467.37,384.62 468.67,385.29 469.98,387.20 471.29,389.62 472.59,388.22 473.90,387.27 475.20,385.89 476.51,386.11 477.82,386.62 479.12,386.07 480.43,387.29 481.73,387.58 483.04,388.87 484.35,389.20 485.65,387.96 486.96,388.12 488.26,388.02 489.57,388.81 490.88,389.73 492.18,391.48 493.49,392.80 494.79,395.73 496.10,396.89 497.41,397.54 498.71,396.18 500.02,395.60 501.32,394.96 502.63,394.35 503.94,395.98 505.24,397.92 506.55,399.34 507.86,400.89 509.16,400.49 510.47,401.22 511.77,402.79 513.08,402.30 514.39,402.72 515.69,402.18 517.00,402.29 518.30,401.69 519.61,403.28 520.92,400.79 522.22,399.85 523.53,400.63 524.83,401.52 526.14,401.28 527.45,401.71 528.75,403.48 530.06,405.01 531.36,407.16 532.67,407.89 533.98,406.44 535.28,406.54 536.59,407.94 537.89,408.29 539.20,408.99" fill="none" stroke="#f7a877" stroke-width="1.7" stroke-linejoin="round" stroke-linecap="butt"/>
<polyline points="344.60,406.11 345.91,410.58 347.21,414.29 348.52,414.62 349.82,413.66 351.13,413.61 352.44,414.19 353.74,413.64 355.05,413.85 356.35,412.79 357.66,412.65 358.97,411.60 360.27,411.64 361.58,411.92 362.88,412.46 364.19,412.47 365.50,412.20 366.80,412.06 368.11,412.71 369.41,413.76 370.72,414.12 372.03,415.36 373.33,414.86 374.64,415.04 375.94,414.18 377.25,413.83 378.56,413.85 379.86,414.40 381.17,414.04 382.48,413.86 383.78,414.10 385.09,414.25 386.39,413.75 387.70,414.20 389.01,414.19 390.31,413.84 391.62,414.89 392.92,414.22 394.23,414.20 395.54,414.84 396.84,415.23 398.15,415.54 399.45,414.79 400.76,415.76 402.07,414.86 403.37,414.59 404.68,414.75 405.98,414.99 407.29,415.22 408.60,415.39 409.90,415.13 411.21,415.41 412.51,414.70 413.82,414.25 415.13,414.44 416.43,414.12 417.74,414.35 419.04,414.17 420.35,413.82 421.66,412.94 422.96,413.18 424.27,413.30 425.57,413.51 426.88,414.13 428.19,415.06 429.49,414.58 430.80,415.52 432.10,416.20 433.41,416.15 434.72,415.43 436.02,413.95 437.33,412.92 438.63,413.05 439.94,413.29 441.25,413.74 442.55,414.42 443.86,414.10 445.17,414.25 446.47,413.44 447.78,413.94 449.08,414.54 450.39,415.25 451.70,415.65 453.00,414.89 454.31,414.55 455.61,414.97 456.92,415.66 458.23,415.56 459.53,415.92 460.84,416.06 462.14,416.41 463.45,417.09 464.76,418.07 466.06,418.03 467.37,418.19 468.67,418.41 469.98,418.39 471.29,418.54 472.59,419.39 473.90,419.61 475.20,421.11 476.51,421.06 477.82,421.54 479.12,421.60 480.43,421.85 481.73,423.02 483.04,423.59 484.35,423.62 485.65,424.06 486.96,423.59 488.26,423.41 489.57,422.62 490.88,422.09 492.18,422.55 493.49,423.15 494.79,423.88 496.10,423.07 497.41,423.16 498.71,423.36 500.02,423.44 501.32,423.69 502.63,423.21 503.94,422.98 505.24,424.57 506.55,424.85 507.86,425.20 509.16,425.72 510.47,425.21 511.77,424.11 513.08,423.88 514.39,423.24 515.69,422.79 517.00,423.87 518.30,423.30 519.61,423.70 520.92,424.23 522.22,424.16 523.53,423.61 524.83,424.70 526.14,425.66 527.45,426.01 528.75,427.33 530.06,427.85 531.36,426.96 532.67,425.92 533.98,425.17 535.28,424.49 536.59,424.16 537.89,424.57 539.20,424.76" fill="none" stroke="#ee6a1e" stroke-width="1.7" stroke-linejoin="round" stroke-linecap="butt"/>
<line x1="323.7" y1="337.1" x2="344.2" y2="337.1" stroke="#ee6a1e" stroke-width="1.8"/>
<text x="345.40000000000003" y="339.90000000000003" font-size="7.6" text-anchor="start" fill="#222" font-weight="normal" font-style="normal" textLength="55.6" lengthAdjust="spacingAndGlyphs">PB-<tspan font-size="7.1">火电（</tspan> <tspan font-size="7.1">申万</tspan> <tspan font-size="7.1">）</tspan></text>
<line x1="405" y1="337.1" x2="425.5" y2="337.1" stroke="#a6a6a6" stroke-width="1.8"/>
<text x="426.8" y="339.90000000000003" font-size="7.6" text-anchor="start" fill="#222" font-weight="normal" font-style="normal" textLength="55.4" lengthAdjust="spacingAndGlyphs">PB-<tspan font-size="7.1">水电（</tspan> <tspan font-size="7.1">申万</tspan> <tspan font-size="7.1">）</tspan></text>
<line x1="486.1" y1="337.1" x2="506.2" y2="337.1" stroke="#f7a877" stroke-width="1.8"/>
<text x="508.0" y="339.90000000000003" font-size="7.6" text-anchor="start" fill="#222" font-weight="normal" font-style="normal" textLength="42.0" lengthAdjust="spacingAndGlyphs">PB-<tspan font-size="7.1">中国核电</tspan></text>
<line x1="49" y1="606" x2="558.3" y2="606" stroke="#8f8f8f" stroke-width="1.4"/>
<line x1="49" y1="620.3" x2="558.3" y2="620.3" stroke="#8f8f8f" stroke-width="1.4"/>
</svg>
</body></html>
